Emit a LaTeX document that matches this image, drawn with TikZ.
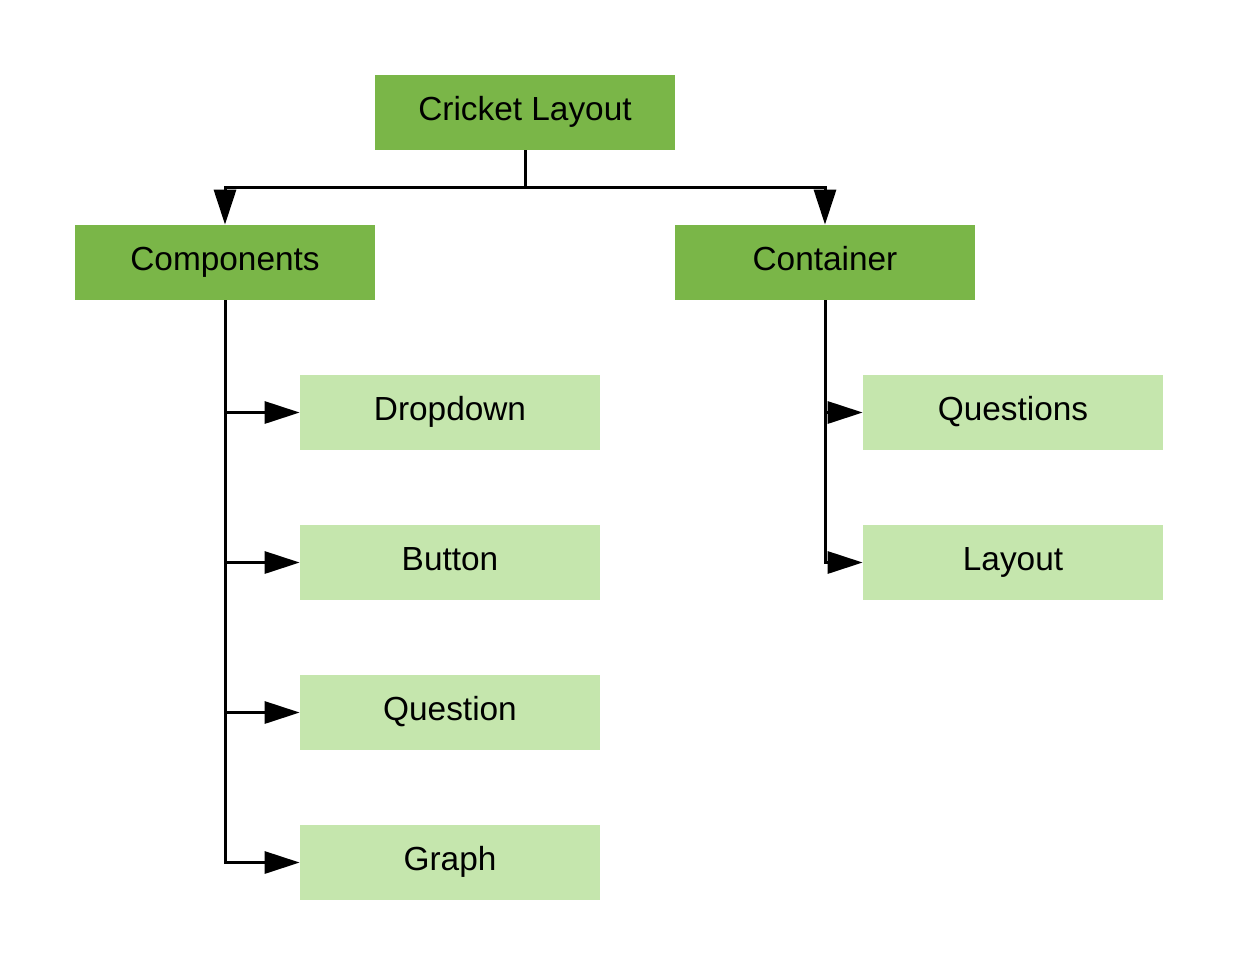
\documentclass[tikz,border=0pt]{standalone}
\usepackage{fontspec}
\setmainfont{Liberation Sans}
\usetikzlibrary{arrows.meta}
\definecolor{darkleaf}{HTML}{7AB648}
\definecolor{lightleaf}{HTML}{C5E6AD}
\tikzset{
	mainbox/.style={fill=darkleaf, minimum width=6cm, minimum height=1.5cm, inner sep=0pt, text height=13.6pt, text depth=4pt, font=\fontsize{19}{22}\selectfont},
	subbox/.style={fill=lightleaf, minimum width=6cm, minimum height=1.5cm, inner sep=0pt, text height=13.6pt, text depth=4pt, font=\fontsize{19}{22}\selectfont},
	link/.style={line width=0.06cm, -{Triangle[length=0.7cm, width=0.44cm]}}
}
\begin{document}
\begin{tikzpicture}

		\useasboundingbox (0, 0) rectangle (24.76, -19.5);

		\node[mainbox] (cricket) at(10.5, -2.25){Cricket Layout};
		\node[mainbox] (comp) at(4.5, -5.25){Components};
		\node[mainbox] (cont) at(16.5, -5.25){Container};

		\node[subbox] (drop) at(9, -8.25){Dropdown};
		\node[subbox] (button) at(9, -11.25){Button};
		\node[subbox] (question) at(9, -14.25){Question};
		\node[subbox] (graph) at(9, -17.25){Graph};

		\node[subbox] (questions) at(20.26, -8.25){Questions};
		\node[subbox] (layout) at(20.26, -11.25){Layout};

		\coordinate (split) at(10.5, -3.74);

		\draw[line width=0.06cm] (cricket.south) to (split);
			\draw[link] (split) -| (comp.north);
			\draw[link] (split) -| (cont.north);

		\foreach \leaf in {drop, button, question, graph}
			\draw[link] (comp.south) |- (\leaf.west);

		\foreach \leaf in {questions, layout}
			\draw[link] (cont.south) |- (\leaf.west);

	\end{tikzpicture}
\end{document}
